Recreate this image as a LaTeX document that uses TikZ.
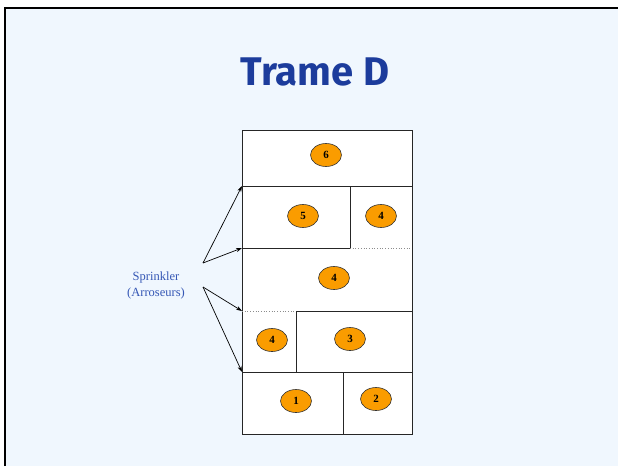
\documentclass[tikz,border=0pt]{standalone}
\usepackage{fontspec}
\setmainfont{Liberation Serif}
\newfontfamily\titlefont{Fira Sans}
\usetikzlibrary{arrows.meta,shapes.geometric}
\definecolor{bgblue}{HTML}{F0F7FE}
\definecolor{titleblue}{HTML}{1C3C9C}
\definecolor{labelblue}{HTML}{3557B5}
\definecolor{ovalorange}{HTML}{FA9C00}
\begin{document}
\begin{tikzpicture}[x=1pt,y=-1pt,
  gridline/.style={line width=0.8pt,draw=black!85},
  dotline/.style={line width=0.7pt,draw=black!45,dotted},
  oval/.style={ellipse,draw=black!80,line width=0.6pt,fill=ovalorange,minimum width=31pt,minimum height=23pt,inner sep=0pt,font=\bfseries\fontsize{11}{11}\selectfont},
  arr/.style={line width=0.7pt,-{Stealth[length=6pt,width=4pt]}},
  lab/.style={text=labelblue,font=\fontsize{12.5}{16}\selectfont,align=center}]
\useasboundingbox (0,0) rectangle (618,466);
\fill[white] (0,0) rectangle (618,466);
\fill[bgblue] (5,8) rectangle (618,466);
\draw[line width=2pt,black] (5,466) -- (5,8) -- (618,8);
\node[text=titleblue,font=\titlefont\bfseries\fontsize{40}{44}\selectfont] (title) at (315,72) {Trame D};
% grid
\fill[white] (242,130) rectangle (412,434);
\draw[gridline] (242,130) rectangle (412,434);
\draw[gridline] (242,186) -- (412,186);
\draw[gridline] (242,248) -- (350,248);
\draw[dotline] (350,248) -- (412,248);
\draw[dotline] (242,311) -- (296,311);
\draw[gridline] (296,311) -- (412,311);
\draw[gridline] (242,372) -- (412,372);
\draw[gridline] (350,186) -- (350,248);
\draw[gridline] (296,311) -- (296,372);
\draw[gridline] (343,372) -- (343,434);
% ovals
\node[oval] (z6) at (326,155) {6};
\node[oval] (z5) at (303,216) {5};
\node[oval] (z4a) at (381,216) {4};
\node[oval] (z4b) at (334,278) {4};
\node[oval] (z4c) at (272,340) {4};
\node[oval] (z3) at (350,339) {3};
\node[oval] (z1) at (296,401) {1};
\node[oval] (z2) at (376,399) {2};
% label and arrows
\node[lab] (spr) at (156,285) {Sprinkler\\(Arroseurs)};
\coordinate (s1) at (203,263);
\coordinate (s2) at (203,287);
\coordinate (t1) at (242,186);
\coordinate (t2) at (242,248);
\coordinate (t3) at (242,311);
\coordinate (t4) at (242,372);
\draw[arr] (s1) -- (t1);
\draw[arr] (s1) -- (t2);
\draw[arr] (s2) -- (t3);
\draw[arr] (s2) -- (t4);
\end{tikzpicture}
\end{document}
